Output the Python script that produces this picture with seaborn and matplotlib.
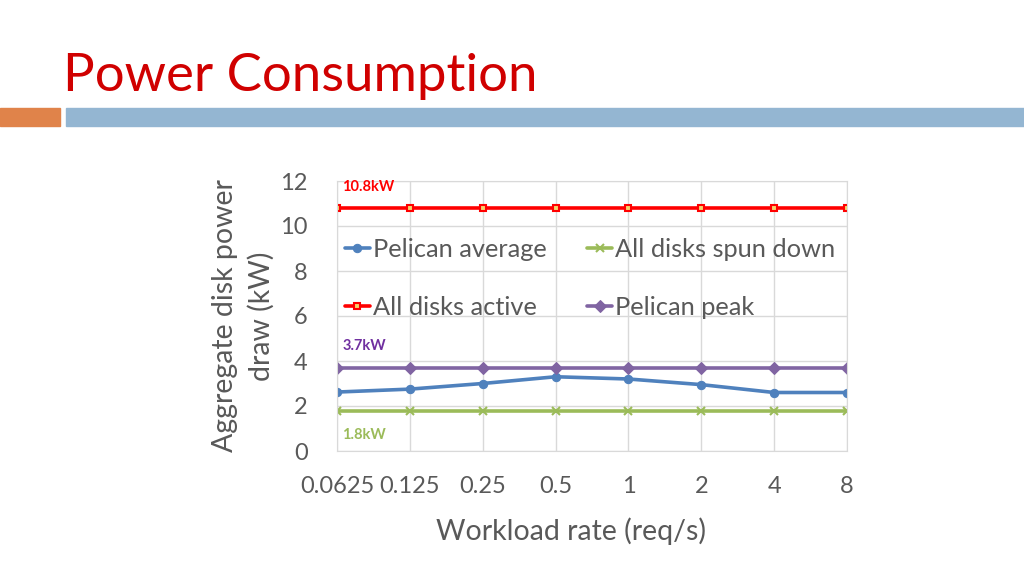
import matplotlib
matplotlib.use("Agg")
import matplotlib.pyplot as plt
import matplotlib.patches as patches
import seaborn as sns
import pandas as pd

rates = ["0.0625", "0.125", "0.25", "0.5", "1", "2", "4", "8"]
pelican_avg = [2.62, 2.75, 3.0, 3.3, 3.2, 2.95, 2.6, 2.6]
spun_down = [1.8, 1.8, 1.8, 1.8, 1.8, 1.8, 1.8, 1.8]
all_active = [10.8, 10.8, 10.8, 10.8, 10.8, 10.8, 10.8, 10.8]
pelican_peak = [3.7, 3.7, 3.7, 3.7, 3.7, 3.7, 3.7, 3.7]

sns.set_style("white")
plt.rcParams['font.family'] = ['Lato', 'DejaVu Sans']

fig = plt.figure(figsize=(10.24, 5.76), dpi=100)

# slide header
fig.text(63 / 1024, 1 - 77 / 576, "Power Consumption", color="#D00000",
         fontsize=38, va="center", ha="left")
fig.patches.append(patches.Rectangle((0, 1 - 126 / 576), 60 / 1024, 18 / 576,
                                     transform=fig.transFigure, color="#E0834A"))
fig.patches.append(patches.Rectangle((66 / 1024, 1 - 126 / 576), 1, 18 / 576,
                                     transform=fig.transFigure, color="#94B6D2"))

ax = fig.add_axes([337 / 1024, 1 - 451 / 576, 510 / 1024, 270 / 576])

series = [
    ("Pelican average", pelican_avg, "#4F81BD", "o", 6),
    ("All disks spun down", spun_down, "#9BBB59", "x", 6),
    ("All disks active", all_active, "#FF0000", "s", 5),
    ("Pelican peak", pelican_peak, "#8064A2", "D", 6),
]
for name, vals, color, marker, ms in series:
    df = pd.DataFrame({"rate": rates, "power": vals})
    kw = dict(markerfacecolor=color, markeredgecolor=color)
    if marker == "s":
        kw = dict(markerfacecolor="#F5D36B", markeredgecolor=color, markeredgewidth=1.5)
    if marker == "x":
        kw = dict(markeredgecolor=color, markeredgewidth=1.5)
    sns.lineplot(data=df, x="rate", y="power", ax=ax, color=color, linewidth=2.6,
                 marker=marker, markersize=ms, label=name, **kw)

ax.text(0.07, 11.73, f"{all_active[0]}kW", color="#FF0000", fontsize=10.5,
        fontweight="bold", va="center")
ax.text(0.07, 4.67, f"{pelican_peak[0]}kW", color="#7030A0", fontsize=10.5,
        fontweight="bold", va="center")
ax.text(0.07, 0.71, f"{spun_down[0]}kW", color="#9BBB59", fontsize=10.5,
        fontweight="bold", va="center")

ax.set_xlim(0, len(rates) - 1)
ax.set_ylim(0, 12)
ax.set_yticks(range(0, 13, 2))
ax.grid(True, color="#D9D9D9", linewidth=1)
ax.set_axisbelow(True)
for sp in ax.spines.values():
    sp.set_color("#D9D9D9")
ax.tick_params(axis="both", length=0, labelsize=17, labelcolor="#595959")
ax.tick_params(axis="y", pad=21)
ax.tick_params(axis="x", pad=18)
ax.set_xlabel("Workload rate (req/s)", fontsize=20.5, color="#595959")
ax.xaxis.set_label_coords(0.458, -0.245)
ax.set_ylabel("Aggregate disk power\ndraw (kW)", fontsize=20.5, color="#595959",
              labelpad=4, linespacing=1.45)

handles, labels = ax.get_legend_handles_labels()
order = [0, 2, 1, 3]
ax.legend([handles[i] for i in order], [labels[i] for i in order], ncol=2,
          loc="upper left", bbox_to_anchor=(-0.01, 0.835), frameon=False,
          fontsize=18.3, labelcolor="#595959", handlelength=1.0, handletextpad=0.1,
          columnspacing=1.6, labelspacing=1.35, borderpad=0)

fig.savefig("out.png", dpi=100)
